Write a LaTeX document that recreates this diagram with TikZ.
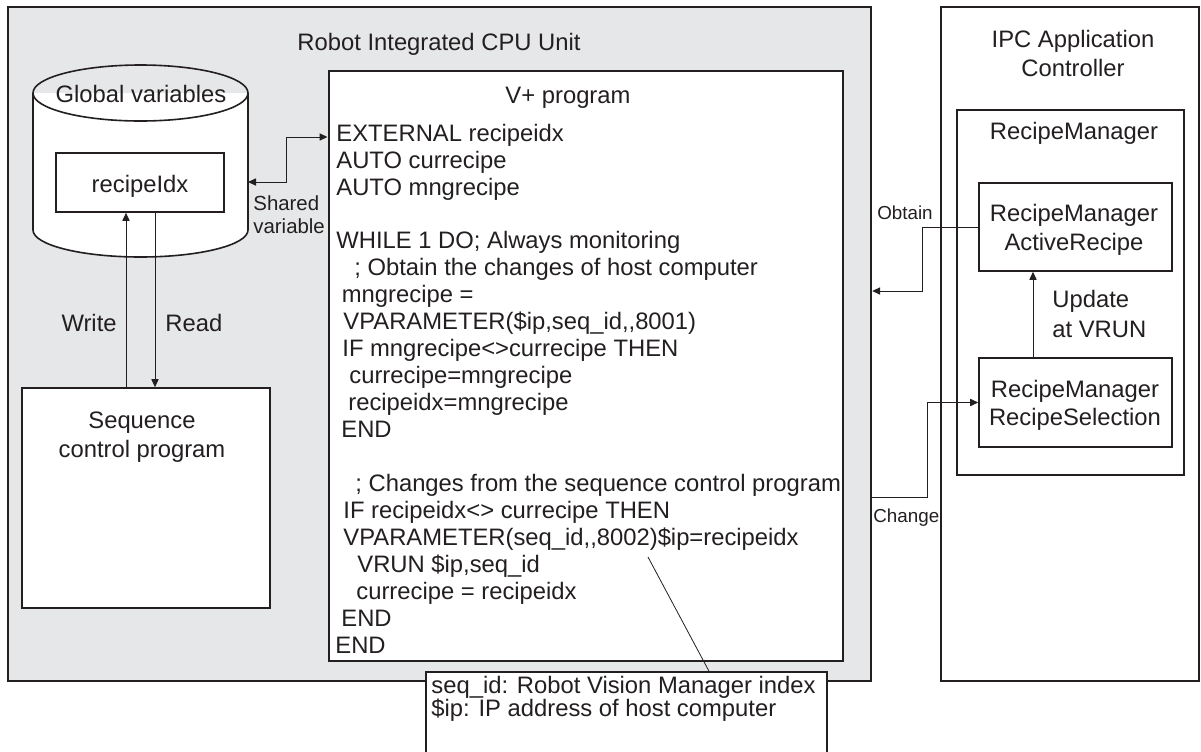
\documentclass[tikz,border=0pt]{standalone}
\usepackage{fontspec}
\setmainfont{Liberation Sans}
\usetikzlibrary{arrows.meta,calc}
\definecolor{panel}{HTML}{E6E7E8}
\definecolor{ink}{HTML}{231F20}
\begin{document}
\begin{tikzpicture}[x=0.5pt,y=-0.5pt,
  frame/.style={draw=ink, line width=1.2pt, inner sep=0},
  prog/.style={draw=ink, fill=white, line width=1pt, inner sep=0},
  box/.style={draw=ink, fill=white, line width=0.8pt, inner sep=0},
  txt/.style={inner sep=0, text=ink, font=\fontsize{11.9}{13}\selectfont},
  small/.style={inner sep=0, text=ink, font=\fontsize{10.2}{12}\selectfont},
  tiny/.style={inner sep=0, text=ink, font=\fontsize{9.4}{11}\selectfont},
  arr/.style={draw=ink, line width=0.5pt, -{Triangle[length=4pt,width=3.6pt]}},
  leader/.style={draw=ink, line width=0.4pt}]
\useasboundingbox (0,0) rectangle (1201,751);
% frames
\node[frame, fill=panel, minimum width=431.5pt, minimum height=337pt] (cpu) at (439.5,344) {};
\node[frame, fill=white, minimum width=129pt, minimum height=337pt] (ipc) at (1070,344) {};
\node[prog, minimum width=257.25pt, minimum height=295pt] (vp) at (585.75,366) {};
% cylinder
\fill[white] (140.5,230) ellipse [x radius=107.5, y radius=27];
\fill[white] (33,93) rectangle (248,230);
\draw[ink, line width=0.8pt] (33,93) -- (33,230) arc[start angle=180, end angle=0, x radius=107.5, y radius=27] -- (248,93);
\draw[ink, line width=0.8pt] (140.5,93) ellipse [x radius=107.5, y radius=28];
\coordinate (cylR) at (248,182);
\node[box, minimum width=84pt, minimum height=29.5pt] (idx) at (140,182.5) {};
\node[box, minimum width=124pt, minimum height=110pt] (seq) at (146,498) {};
% IPC side
\node[box, minimum width=113.5pt, minimum height=182.5pt] (rm) at (1070.5,292.5) {};
\node[box, minimum width=96.5pt, minimum height=44pt] (act) at (1075.5,227) {};
\node[box, minimum width=96.5pt, minimum height=44.5pt] (sel) at (1075.5,402.5) {};
% connectors
\draw[arr, {Triangle[length=4pt,width=3.6pt]}-{Triangle[length=4pt,width=3.6pt]}] (cylR) -- (286,182) |- (vp.west |- 0,137);
\draw[arr] (seq.north -| 126,0) -- (idx.south -| 126,0);
\draw[arr] (idx.south -| 155,0) -- (seq.north -| 155,0);
\draw[arr] (act.west) -- ++(-56,0) |- (cpu.east |- 0,291);
\draw[arr] (cpu.east |- 0,497) -- (927,497) |- (sel.west);
\draw[arr] (sel.north -| 1033,0) -- (act.south -| 1033,0);
% note
\node[box, minimum width=200.5pt, minimum height=44pt] (note) at (626.5,716) {};
\coordinate (lead) at (648,557);
\draw[leader] (lead) -- (note.north -| 709,0);
% texts
\node[txt, anchor=base] (tcpu) at (439,50) {Robot Integrated CPU Unit};
\node[txt, anchor=base] (tvp) at (568,103) {V+ program};
\node[txt, anchor=base] (tglob) at (141,102) {Global variables};
\node[txt, anchor=base] (tidx) at (140,192) {recipeIdx};
\node[small, anchor=base west] (tsh1) at (253,210) {Shared};
\node[small, anchor=base west] (tsh2) at (253,233) {variable};
\node[txt, anchor=base east] (twr) at (117,331) {Write};
\node[txt, anchor=base west] (trd) at (165,331) {Read};
\node[txt, anchor=base] (tseq1) at (142,428) {Sequence};
\node[txt, anchor=base] (tseq2) at (142,457) {control program};
\node[txt, anchor=base] (tipc1) at (1073,47) {IPC Application};
\node[txt, anchor=base] (tipc2) at (1073,76) {Controller};
\node[txt, anchor=base] (trm) at (1074,139) {RecipeManager};
\node[txt, anchor=base] (tact1) at (1074,221) {RecipeManager};
\node[txt, anchor=base] (tact2) at (1074,250) {ActiveRecipe};
\node[txt, anchor=base] (tsel1) at (1075,397) {RecipeManager};
\node[txt, anchor=base] (tsel2) at (1075,425) {RecipeSelection};
\node[txt, anchor=base west] (tup1) at (1052,307) {Update};
\node[txt, anchor=base west] (tup2) at (1052,337) {at VRUN};
\node[tiny, anchor=base] (tobt) at (905,219) {Obtain};
\node[tiny, anchor=base west] (tchg) at (873,522) {Change};
\node[txt, anchor=base west] (tn1) at (431,693) {seq\_id: Robot Vision Manager index};
\node[txt, anchor=base west] (tn2) at (431,716) {\$ip: IP address of host computer};
% code
\node[txt, anchor=base west] (l1) at (336,141) {EXTERNAL recipeidx};
\node[txt, anchor=base west] (l2) at (336,168) {AUTO currecipe};
\node[txt, anchor=base west] (l3) at (336,195) {AUTO mngrecipe};
\node[txt, anchor=base west] (l4) at (336,248.8) {WHILE 1 DO; Always monitoring};
\node[txt, anchor=base west] (l5) at (354,275.75) {; Obtain the changes of host computer};
\node[txt, anchor=base west] (l6) at (341.5,302.7) {mngrecipe =};
\node[txt, anchor=base west] (l7) at (343,329.65) {VPARAMETER(\$ip,seq\_id,\kern0pt,8001)};
\node[txt, anchor=base west] (l8) at (342,356.6) {IF mngrecipe<>currecipe THEN};
\node[txt, anchor=base west] (l9) at (349,383.55) {currecipe=mngrecipe};
\node[txt, anchor=base west] (l10) at (348,410.5) {recipeidx=mngrecipe};
\node[txt, anchor=base west] (l11) at (341,437.45) {END};
\node[txt, anchor=base west] (l12) at (355,491.35) {; Changes from the sequence control program};
\node[txt, anchor=base west] (l13) at (343,518.3) {IF recipeidx<> currecipe THEN};
\node[txt, anchor=base west] (l14) at (343,545.25) {VPARAMETER(seq\_id,\kern0pt,8002)\$ip=recipeidx};
\node[txt, anchor=base west] (l15) at (357,572.2) {VRUN \$ip,seq\_id};
\node[txt, anchor=base west] (l16) at (356,599.15) {currecipe = recipeidx};
\node[txt, anchor=base west] (l17) at (341,626.1) {END};
\node[txt, anchor=base west] (l18) at (335,653.05) {END};
\end{tikzpicture}
\end{document}
